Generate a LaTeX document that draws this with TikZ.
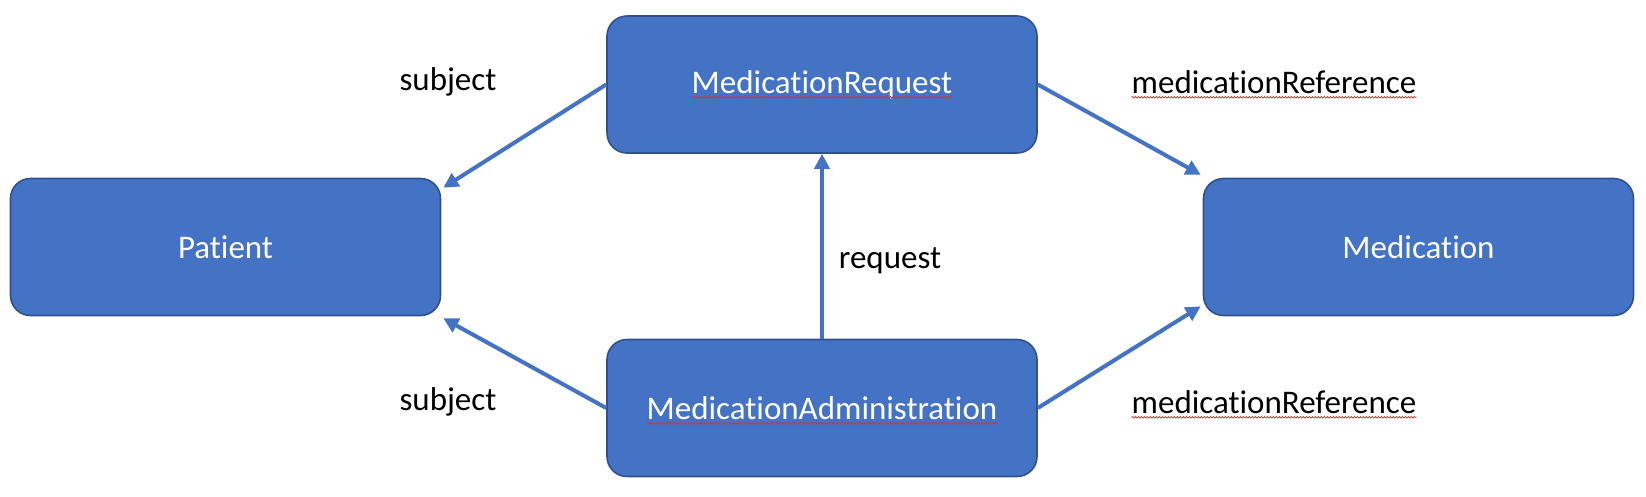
\documentclass[tikz,border=0pt]{standalone}
\usepackage{fontspec}
\setmainfont{Carlito}[Ligatures=NoCommon]
\usetikzlibrary{arrows.meta,decorations.pathmorphing}
\definecolor{boxfill}{HTML}{4472C4}
\definecolor{boxline}{HTML}{2F528F}
\definecolor{arrowblue}{HTML}{4472C4}
\definecolor{squig}{HTML}{E03030}
\begin{document}
\begin{tikzpicture}[x=1pt,y=-1pt,
  entity/.style={draw=boxline,line width=1.6pt,fill=boxfill,rounded corners=20pt,
    minimum width=430pt,minimum height=137pt,inner sep=0pt},
  etext/.style={text=white,font=\fontsize{33}{40}\selectfont,inner sep=0pt},
  link/.style={draw=arrowblue,line width=4pt,-{Triangle[length=15pt,width=15pt]}},
  lbl/.style={font=\fontsize{33}{40}\selectfont,text=black,inner sep=0pt},
  squiggle/.style={draw=squig,line width=0.8pt,decorate,
    decoration={snake,amplitude=0.8pt,segment length=3pt}}]
\useasboundingbox (0,0) rectangle (1646,496);
\node[entity] (MR) at (822,84.5) {};
\node[entity] (P) at (225.5,247) {};
\node[entity] (M) at (1418.5,247) {};
\node[entity] (MA) at (822,408) {};
\node[etext] (MRt) at (MR.center) {MedicationRequest};
\node[etext] (Pt) at (P.center) {Patient};
\node[etext] (Mt) at (M.center) {Medication};
\node[etext] (MAt) at (MA.center) {MedicationAdministration};
\draw[link] (MR.west) -- ([xshift=2pt,yshift=-10pt]P.north east);
\draw[link] (MR.east) -- ([xshift=-2pt,yshift=3pt]M.north west);
\draw[link] (MA.north) -- (MR.south);
\draw[link] (MA.west) -- ([xshift=2pt,yshift=-2pt]P.south east);
\draw[link] (MA.east) -- ([xshift=-2pt,yshift=10pt]M.south west);
\node[lbl] (s1) at (448,82) {subject};
\node[lbl] (s2) at (448,402) {subject};
\node[lbl] (r1) at (1274,82) {medicationReference};
\node[lbl] (r2) at (1274,402) {medicationReference};
\node[lbl] (rq) at (890,261) {request};
\draw[squiggle] ([yshift=-4pt]MRt.base west) -- ([yshift=-4pt]MRt.base east);
\draw[squiggle] ([yshift=-4pt]MAt.base west) -- ([yshift=-4pt]MAt.base east);
\draw[squiggle] ([yshift=-4pt]r1.base west) -- ([yshift=-4pt]r1.base east);
\draw[squiggle] ([yshift=-4pt]r2.base west) -- ([yshift=-4pt]r2.base east);
\end{tikzpicture}
\end{document}
